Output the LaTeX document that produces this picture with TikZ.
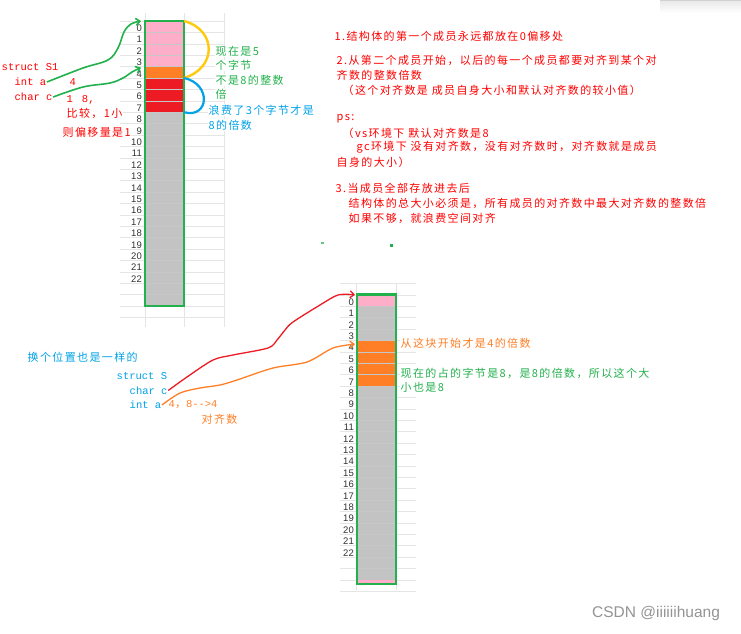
\documentclass[tikz,border=0pt]{standalone}
\usepackage{fontspec}
\setmainfont{Liberation Sans}
\setmonofont{Liberation Mono}
\newfontfamily\cjk[LetterSpace=12.5]{Noto Sans CJK SC}
\newcommand{\zh}{\cjk\fontsize{11}{13}\selectfont}
\newcommand{\code}{\ttfamily\fontsize{10.5}{12}\selectfont}
\usepackage{tikz}
\usetikzlibrary{positioning}
\usetikzlibrary{arrows.meta}
\definecolor{cpink}{RGB}{255,174,201}
\definecolor{corange}{RGB}{255,127,39}
\definecolor{cred}{RGB}{237,28,36}
\definecolor{cgray}{RGB}{195,195,195}
\definecolor{cgreen}{RGB}{34,177,76}
\definecolor{cyellow}{RGB}{255,201,14}
\definecolor{cblue}{RGB}{0,162,232}
\definecolor{tred}{RGB}{255,0,0}

\begin{document}
\begin{tikzpicture}[
        x=1pt, y=-1pt,
        cell/.style={draw=black!22, line width=0.5pt, minimum width=39pt,
                     minimum height=11.4pt, inner sep=0pt, outer sep=0pt},
        frame/.style={draw=cgreen, line width=2.8pt},
        gridline/.style={draw=black!10, line width=0.6pt},
        numlbl/.style={anchor=east, inner sep=0pt, text=black!80,
                       font=\fontsize{9.5}{10}\selectfont},
        note/.style={anchor=west, inner sep=0.5pt, fill=white, font=\zh},
        rednote/.style={note, text=tred},
        greennote/.style={note, text=cgreen},
        bluenote/.style={note, text=cblue},
        orangenote/.style={note, text=corange},
        codenote/.style={note, font=\code},
        garrow/.style={draw=cgreen, line width=1.6pt, -{Straight Barb[length=4pt,width=7pt]}},
        rarrow/.style={draw=cred, line width=1.3pt, -{Straight Barb[length=4pt,width=7pt]}},
        oarrow/.style={draw=corange, line width=1.3pt, -{Straight Barb[length=4pt,width=7pt]}},
        ybrace/.style={draw=cyellow, line width=2.4pt},
        bbrace/.style={draw=cblue, line width=2.2pt}
    ]
        \useasboundingbox (0,0) rectangle (741,633);
        \fill[white] (0,0) rectangle (741,633);
        \shade[top color=black!9, bottom color=white] (660,0) rectangle (741,13);
        \draw[black!18, line width=0.6pt] (660,0.6) -- (741,0.6);

        \foreach \k in {0,...,26} \draw[gridline] (120,{21+11.4*\k}) -- (224,{21+11.4*\k});
        \foreach \gx in {145,184,224} \draw[gridline] (\gx,13) -- (\gx,327);
        \foreach \k in {-1,...,26} \draw[gridline] (340,{294.8+11.4*\k}) -- (416,{294.8+11.4*\k});
        \foreach \gx in {356.5,396.5} \draw[gridline] (\gx,283) -- (\gx,590);

        \foreach \i in {0,...,24}{
            \ifnum\i<4 \def\cc{cpink}\else\ifnum\i<5 \def\cc{corange}\else\ifnum\i<8 \def\cc{cred}\else\def\cc{cgray}\fi\fi\fi
            \node[cell, fill=\cc] (a\i) at (164.5,{26.7+11.4*\i}) {};
        }
        \foreach \i in {0,...,24}{
            \ifnum\i<1 \def\cc{cpink}\else\ifnum\i<4 \def\cc{cgray}\else\ifnum\i<8 \def\cc{corange}\else\def\cc{cgray}\fi\fi\fi
            \node[cell, fill=\cc] (b\i) at (376.5,{300.5+11.4*\i}) {};
        }
        \node[cell, fill=cpink, draw=none, minimum height=4.2pt] (b25) at (376.5,581.9) {};
        \draw[frame] (a0.north west) rectangle (a24.south east);
        \draw[frame] (b0.north west) rectangle (b25.south east);
        \foreach \i in {0,...,22}{
            \node[numlbl] (na\i) at (142,{28.2+11.4*\i}) {\i};
            \node[numlbl] (nb\i) at (354,{302+11.4*\i}) {\i};
        }

        \node[codenote, text=tred] (s1title) at (1,67) {struct S1};
        \node[codenote, text=tred] (s1inta) at (14,82) {int a};
        \node[codenote, text=tred] (s1four) at (69,82) {4};
        \node[codenote, text=tred] (s1charc) at (14,97) {char c};
        \node[codenote, text=tred] (s1eight) at (66,99.5) {1\hspace{9pt}8,};
        \node[rednote] (s1cmp) at (66,113.5) {比较，1小};
        \node[rednote] (s1offset) at (62,132) {则偏移量是1};

        \node[greennote] (waste1) at (215,51.5) {现在是5};
        \node[greennote] (waste2) at (215,65.5) {个字节};
        \node[greennote] (waste3) at (215,80) {不是8的整数};
        \node[greennote] (waste4) at (215,94) {倍};
        \node[bluenote] (pad1) at (208,110) {浪费了3个字节才是};
        \node[bluenote] (pad2) at (208,125) {8的倍数};

        \node[rednote] (rule1) at (334,36.5) {1.结构体的第一个成员永远都放在0偏移处};
        \node[rednote] (rule2) at (336,60.5) {2.从第二个成员开始，以后的每一个成员都要对齐到某个对};
        \node[rednote] (rule3) at (336,75) {齐数的整数倍数};
        \node[rednote] (rule4) at (342,90) {（这个对齐数是 成员自身大小和默认对齐数的较小值）};
        \node[rednote] (rule5) at (336,118.5) {ps:};
        \node[rednote] (rule6) at (342,133) {（vs环境下 默认对齐数是8};
        \node[rednote] (rule7) at (356,147.5) {gc环境下 没有对齐数，没有对齐数时，对齐数就是成员};
        \node[rednote] (rule8) at (336,162) {自身的大小）};
        \node[rednote] (rule9) at (335,188.5) {3.当成员全部存放进去后};
        \node[rednote] (rule10) at (348,203.5) {结构体的总大小必须是，所有成员的对齐数中最大对齐数的整数倍};
        \node[rednote] (rule11) at (348,218) {如果不够，就浪费空间对齐};
        \fill[cgreen!70] (320.5,241.5) rectangle (323.5,244);
        \fill[cgreen] (389.5,244) rectangle (392.5,246.5);

        \node[bluenote] (s2title) at (27,357) {换个位置也是一样的};
        \node[codenote, text=cblue] (s2struct) at (116,376) {struct S};
        \node[codenote, text=cblue] (s2charc) at (129,390.5) {char c};
        \node[codenote, text=cblue] (s2inta) at (129,405) {int a};
        \node[codenote, text=corange] (s2align) at (168,405) {4{\zh ，}8-{}->4};
        \node[orangenote] (s2word) at (201,419.5) {对齐数};
        \node[orangenote] (from4) at (400,343) {从这块开始才是4的倍数};
        \node[greennote] (size8a) at (400,373) {现在的占的字节是8，是8的倍数，所以这个大};
        \node[greennote] (size8b) at (400,387.5) {小也是8};

        \node[anchor=west, inner sep=0pt, text=black!42,
              font=\fontsize{15.5}{16}\selectfont] (mark) at (592,613) {CSDN @iiiiiihuang};

        \draw[ybrace] (a0.north east) .. controls (217,30) and (217,68) .. (a4.south east);
        \draw[bbrace] (a5.north east) .. controls (212,84) and (209,119) .. (a7.south east);
        \draw[garrow] plot[smooth, tension=0.6] coordinates {(s1inta.east) (83,68) (108,60) (118,48) (124,32) (131,24) ([xshift=-4pt]a0.north west)};
        \draw[garrow] plot[smooth, tension=0.6] coordinates {(s1charc.east) (83,87) (110,83) (123,78) (132,72) ([xshift=-4pt, yshift=-1pt]a4.north west)};
        \draw[rarrow] plot[smooth, tension=0.5] coordinates {(s2charc.east) (187,377) (213,360) (233,355) (268,348) (277,340) (285,330) (293,322) (320,305) (338,295) ([xshift=-2pt]b0.north west)};
        \draw[oarrow] plot[smooth, tension=0.5] coordinates {(s2inta.east) (180,393) (200,388) (220,385) (237,380) (273,368) (307,362) (333,348) ([xshift=-2pt, yshift=2pt]b4.west)};
    \end{tikzpicture}
\end{document}
